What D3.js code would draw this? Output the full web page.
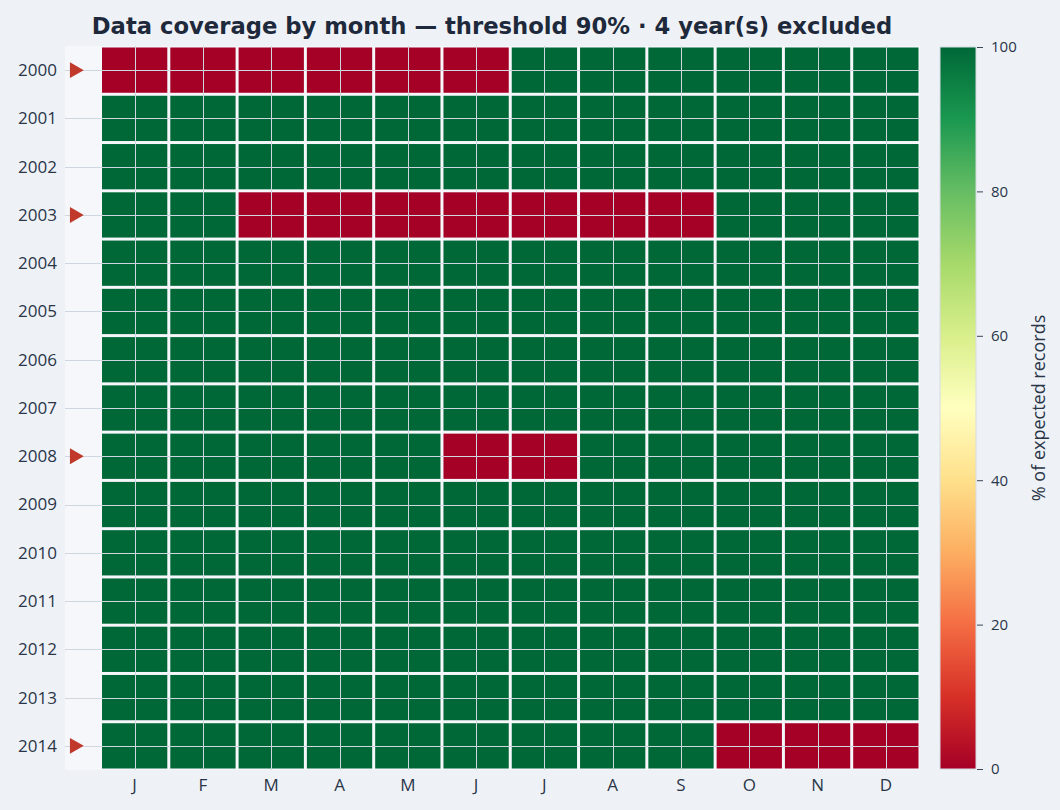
<!DOCTYPE html>
<html><head><meta charset="utf-8">
<script src="https://cdn.jsdelivr.net/npm/d3@7"></script>
<style>
html,body{margin:0;padding:0;background:#eef2f7;}
svg{display:block;}
</style></head>
<body>
<svg id="chart" width="1060" height="810"></svg>
<script>
const title = "Data coverage by month — threshold 90% · 4 year(s) excluded";
const years = [2000,2001,2002,2003,2004,2005,2006,2007,2008,2009,2010,2011,2012,2013,2014];
const months = ["J","F","M","A","M","J","J","A","S","O","N","D"];
const coverage = [
  [0,0,0,0,0,0,100,100,100,100,100,100],
  [100,100,100,100,100,100,100,100,100,100,100,100],
  [100,100,100,100,100,100,100,100,100,100,100,100],
  [100,100,0,0,0,0,0,0,0,100,100,100],
  [100,100,100,100,100,100,100,100,100,100,100,100],
  [100,100,100,100,100,100,100,100,100,100,100,100],
  [100,100,100,100,100,100,100,100,100,100,100,100],
  [100,100,100,100,100,100,100,100,100,100,100,100],
  [100,100,100,100,100,0,0,100,100,100,100,100],
  [100,100,100,100,100,100,100,100,100,100,100,100],
  [100,100,100,100,100,100,100,100,100,100,100,100],
  [100,100,100,100,100,100,100,100,100,100,100,100],
  [100,100,100,100,100,100,100,100,100,100,100,100],
  [100,100,100,100,100,100,100,100,100,100,100,100],
  [100,100,100,100,100,100,100,100,100,0,0,0]
];
const excludedYears = [2000,2003,2008,2014];
const colorbarTicks = [0,20,40,60,80,100];
const colorbarTitle = "% of expected records";
const scaleStops = ["rgb(165,0,38)","rgb(215,48,39)","rgb(244,109,67)","rgb(253,174,97)","rgb(254,224,139)","rgb(255,255,191)","rgb(217,239,139)","rgb(166,217,106)","rgb(102,189,99)","rgb(26,152,80)","rgb(0,104,55)"];

const svg = d3.select("#chart");
const L = 65, R = 920, T = 46, B = 770;
const x = d3.scaleLinear().domain([-1.02, 11.5]).range([L, R]);
const y = d3.scaleLinear().domain([-0.5, years.length - 0.5]).range([T, B]);
const color = d3.scaleLinear()
  .domain(scaleStops.map((d,i)=> i*10))
  .range(scaleStops)
  .interpolate(d3.interpolateRgb);
const textCol = "#2a3548";
const tickFont = "'Open Sans', 'Noto Sans', sans-serif";

// plot background
svg.append("rect").attr("x", L).attr("y", T).attr("width", R-L).attr("height", B-T).attr("fill", "#f5f7fb");

// cells
const cells = [];
years.forEach((yr, r) => months.forEach((m, c) => cells.push({r, c, v: coverage[r][c]})));
const gap = 1.5;
svg.append("g").selectAll("rect").data(cells).join("rect")
  .attr("x", d => x(d.c - 0.5) + gap)
  .attr("y", d => y(d.r - 0.5) + gap)
  .attr("width", d => x(d.c + 0.5) - x(d.c - 0.5) - 2*gap)
  .attr("height", d => y(d.r + 0.5) - y(d.r - 0.5) - 2*gap)
  .attr("fill", d => color(d.v));

// gridlines
const grid = svg.append("g").attr("stroke", "#cfd6df").attr("stroke-width", 1);
grid.selectAll("line.h").data(years).join("line").attr("class","h")
  .attr("x1", L).attr("x2", R)
  .attr("y1", (d,i) => Math.round(y(i)) + 0.5).attr("y2", (d,i) => Math.round(y(i)) + 0.5);
grid.selectAll("line.v").data(months).join("line").attr("class","v")
  .attr("y1", T).attr("y2", B)
  .attr("x1", (d,i) => Math.round(x(i)) + 0.5).attr("x2", (d,i) => Math.round(x(i)) + 0.5);

// excluded markers
const tri = d3.symbol().type(d3.symbolTriangle).size(110);
svg.append("g").selectAll("path").data(excludedYears).join("path")
  .attr("d", tri)
  .attr("transform", d => `translate(${x(-0.88)},${y(years.indexOf(d))}) rotate(90)`)
  .attr("fill", "#c0392b");

// y labels
svg.append("g").selectAll("text").data(years).join("text")
  .attr("x", 57).attr("y", (d,i) => y(i)).attr("dy", "0.35em")
  .attr("text-anchor", "end").attr("font-family", tickFont).attr("font-size", 17).attr("fill", textCol)
  .text(d => d);

// x labels
svg.append("g").selectAll("text").data(months).join("text")
  .attr("x", (d,i) => x(i)).attr("y", 785).attr("dy", "0.35em")
  .attr("text-anchor", "middle").attr("font-family", tickFont).attr("font-size", 17).attr("fill", textCol)
  .text(d => d);

// title
svg.append("text").attr("x", 492).attr("y", 34).attr("text-anchor", "middle")
  .attr("font-family", "'DejaVu Sans', sans-serif").attr("font-weight", "bold").attr("font-size", 22.7)
  .attr("fill", "#1e293b").text(title);

// colorbar
const cbX = 940, cbW = 36;
const cy = d3.scaleLinear().domain([0, 100]).range([769, 47]);
const defs = svg.append("defs");
const grad = defs.append("linearGradient").attr("id", "cbgrad").attr("x1", 0).attr("y1", 1).attr("x2", 0).attr("y2", 0);
grad.selectAll("stop").data(scaleStops).join("stop")
  .attr("offset", (d,i) => i/10).attr("stop-color", d => d);
svg.append("rect").attr("x", cbX).attr("y", cy(100)).attr("width", cbW).attr("height", cy(0)-cy(100))
  .attr("fill", "url(#cbgrad)").attr("stroke", "#d5dbe3").attr("stroke-width", 1);
const cbAxis = svg.append("g").attr("transform", `translate(${cbX+cbW+1},0)`)
  .call(d3.axisRight(cy).tickValues(colorbarTicks).tickSize(6).tickPadding(8));
cbAxis.select(".domain").remove();
cbAxis.selectAll("line").attr("stroke", "#3a4558").attr("stroke-width", 1);
cbAxis.selectAll("text").attr("font-family", tickFont).attr("font-size", 15).attr("fill", textCol);
svg.append("text").attr("transform", `translate(1045,${(cy(0)+cy(100))/2}) rotate(-90)`)
  .attr("text-anchor", "middle").attr("font-family", tickFont).attr("font-size", 18).attr("fill", textCol)
  .text(colorbarTitle);
</script>
</body></html>
